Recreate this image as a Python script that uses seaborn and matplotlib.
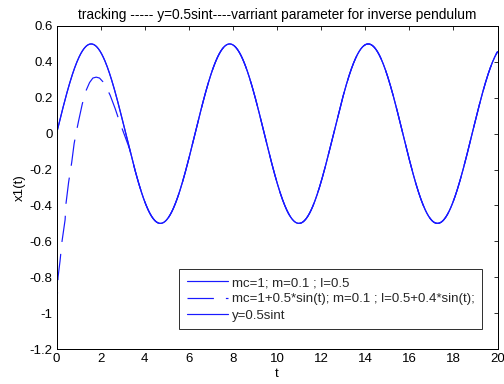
import numpy as np
import pandas as pd
import matplotlib
matplotlib.use("Agg")
import matplotlib.pyplot as plt
import seaborn as sns

# Time axis of the simulation
t_ref = np.linspace(0, 20, 801)
# Reference trajectory y = 0.5 sin t
y_ref = 0.5 * np.sin(t_ref)
# Nominal-parameter system tracks the reference from x1(0)=0
x1_nominal = y_ref.copy()

# Time-varying-parameter system: transient before it locks onto the reference
t_trans = [0.00, 0.07, 0.16, 0.25, 0.39, 0.43, 0.55, 0.69, 0.80, 0.90,
           1.00, 1.17, 1.34, 1.50, 1.65, 1.80, 1.95, 2.10, 2.25, 2.43,
           2.66, 2.85, 3.00, 3.15, 3.30]
x_trans = [-1.03, -0.80, -0.71, -0.60, -0.48, -0.39, -0.27, -0.16, -0.055, 0.01,
           0.07, 0.166, 0.24, 0.285, 0.31, 0.315, 0.31, 0.29, 0.26, 0.215,
           0.14, 0.07, 0.02, -0.03, -0.08]
after = t_ref > 3.30
t_var = np.concatenate([t_trans, t_ref[after]])
x1_varying = np.concatenate([x_trans, y_ref[after]])

lab_nom = "mc=1; m=0.1 ; l=0.5"
lab_var = "mc=1+0.5*sin(t); m=0.1 ; l=0.5+0.4*sin(t);"
lab_ref = "y=0.5sint"

y_ticks = [-1.2, -1.0, -0.8, -0.6, -0.4, -0.2, 0.0, 0.2, 0.4, 0.6]
y_tick_labels = ["-1.2", "-1", "-0.8", "-0.6", "-0.4", "-0.2", "0", "0.2", "0.4", "0.6"]

df_nom = pd.DataFrame({"t": t_ref, "x1": x1_nominal})
df_var = pd.DataFrame({"t": t_var, "x1": x1_varying})
df_ref = pd.DataFrame({"t": t_ref, "x1": y_ref})

sns.set_theme(style="white")
plt.rcParams["font.family"] = ["Liberation Sans", "DejaVu Sans"]
fs = 13.3
plt.rcParams["font.size"] = fs

fig = plt.figure(figsize=(7, 384 / 72), dpi=72)
ax = fig.add_axes([56.5 / 504, 1 - 349 / 384, 441 / 504, 323 / 384])

blue = "#1a1aff"
lw = 1.2
sns.lineplot(data=df_nom, x="t", y="x1", ax=ax, color=blue, lw=lw,
             sort=False, estimator=None)
sns.lineplot(data=df_var, x="t", y="x1", ax=ax, color=blue, lw=lw,
             sort=False, estimator=None)
sns.lineplot(data=df_ref, x="t", y="x1", ax=ax, color=blue, lw=lw,
             sort=False, estimator=None)
series_lines = ax.lines[:3]
for ln in series_lines:
    ln.set_color(blue)
    ln.set_linewidth(lw)
series_lines[1].set_dashes((22, 10))

ax.set_xlim(0, 20)
ax.set_ylim(-1.2, 0.6)
ax.set_xticks(np.arange(0, 21, 2))
ax.set_yticks(y_ticks)
ax.set_yticklabels(y_tick_labels)
ax.tick_params(direction="in", length=4, width=0.8, top=True, right=True,
               labelsize=fs, colors="black", pad=4)
for s in ax.spines.values():
    s.set_color("black")
    s.set_linewidth(1.0)
ax.grid(False)

ax.set_xlabel("t", fontsize=fs, color="black", labelpad=3)
ax.set_ylabel("x1(t)", fontsize=fs, color="black", labelpad=4)
ax.set_title("tracking ----- y=0.5sint----varriant parameter for inverse pendulum",
             fontsize=13.8, color="black", pad=7)

leg = ax.legend(handles=series_lines, labels=[lab_nom, lab_var, lab_ref],
                loc="lower right", bbox_to_anchor=(0.965, 0.062),
                borderaxespad=0, fontsize=fs, frameon=True, fancybox=False,
                handlelength=3.1, handletextpad=0.3, labelspacing=0.3,
                borderpad=0.55)
leg.get_frame().set_edgecolor("black")
leg.get_frame().set_linewidth(1.0)

fig.savefig("out.png", dpi=72)
